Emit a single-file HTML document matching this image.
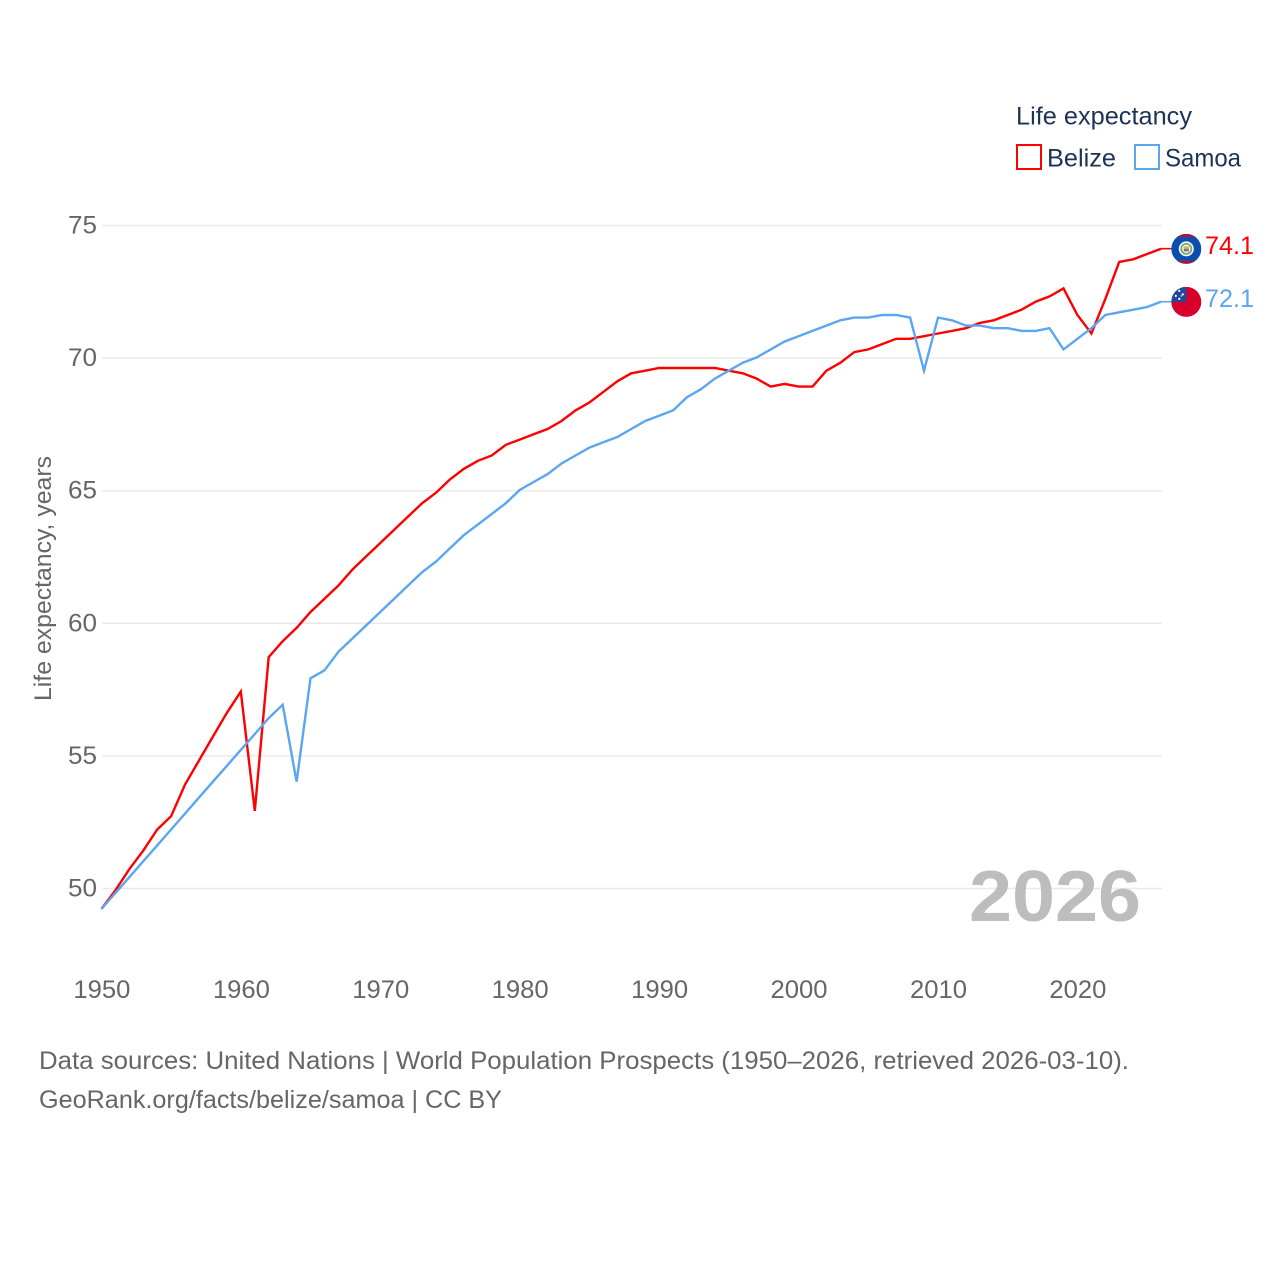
<!DOCTYPE html>
<html lang="en">
<head>
<meta charset="utf-8">
<title>Life expectancy: Belize and Samoa</title>
<style>
html,body{margin:0;padding:0;background:#fff;width:1280px;height:1280px;overflow:hidden}
svg{display:block}
text{font-family:"Liberation Sans",sans-serif}
</style>
</head>
<body>
<svg id="chart" width="1280" height="1280" viewBox="0 0 1280 1280" xmlns="http://www.w3.org/2000/svg">
  <rect width="1280" height="1280" fill="#fff"/>
  <g id="grid"></g>
  <g id="yticks"></g>
  <g id="xticks"></g>
  <text transform="translate(51,701) rotate(-90)" font-size="24" fill="#666" textLength="245" lengthAdjust="spacingAndGlyphs">Life expectancy, years</text>
  <text x="969" y="921" font-size="72" font-weight="bold" fill="#bdbdbd" textLength="172" lengthAdjust="spacingAndGlyphs">2026</text>
  <g id="series"></g>
  <g id="end-labels"></g>

  <g>
    <text x="1016" y="124.5" font-size="25" fill="#1b3354" textLength="176" lengthAdjust="spacingAndGlyphs">Life expectancy</text>
    <g>
      <rect x="1017" y="145" width="24" height="24" fill="#fff" stroke="#ff0000" stroke-width="2"/>
      <text x="1047" y="166.5" font-size="25" fill="#1b3354" textLength="69" lengthAdjust="spacingAndGlyphs">Belize</text>
    </g>
    <g>
      <rect x="1135" y="145" width="24" height="24" fill="#fff" stroke="#5ba6f0" stroke-width="2"/>
      <text x="1165" y="166.5" font-size="25" fill="#1b3354" textLength="76" lengthAdjust="spacingAndGlyphs">Samoa</text>
    </g>
  </g>

  <text x="39" y="1069" font-size="25" fill="#666" textLength="1090" lengthAdjust="spacingAndGlyphs">Data sources: United Nations | World Population Prospects (1950–2026, retrieved 2026-03-10).</text>
  <text x="39" y="1108" font-size="25" fill="#666" textLength="463" lengthAdjust="spacingAndGlyphs">GeoRank.org/facts/belize/samoa | CC BY</text>
</svg>
<script>
const years = [1950,1951,1952,1953,1954,1955,1956,1957,1958,1959,1960,1961,1962,1963,1964,1965,1966,1967,1968,1969,1970,1971,1972,1973,1974,1975,1976,1977,1978,1979,1980,1981,1982,1983,1984,1985,1986,1987,1988,1989,1990,1991,1992,1993,1994,1995,1996,1997,1998,1999,2000,2001,2002,2003,2004,2005,2006,2007,2008,2009,2010,2011,2012,2013,2014,2015,2016,2017,2018,2019,2020,2021,2022,2023,2024,2025,2026];
const belizeValues = [49.2,49.9,50.7,51.4,52.2,52.7,53.9,54.8,55.7,56.6,57.4,52.9,58.7,59.3,59.8,60.4,60.9,61.4,62.0,62.5,63.0,63.5,64.0,64.5,64.9,65.4,65.8,66.1,66.3,66.7,66.9,67.1,67.3,67.6,68.0,68.3,68.7,69.1,69.4,69.5,69.6,69.6,69.6,69.6,69.6,69.5,69.4,69.2,68.9,69.0,68.9,68.9,69.5,69.8,70.2,70.3,70.5,70.7,70.7,70.8,70.9,71.0,71.1,71.3,71.4,71.6,71.8,72.1,72.3,72.6,71.6,70.9,72.2,73.6,73.7,73.9,74.1];
const samoaValues = [49.2,49.8,50.4,51.0,51.6,52.2,52.8,53.4,54.0,54.6,55.2,55.8,56.4,56.9,54.0,57.9,58.2,58.9,59.4,59.9,60.4,60.9,61.4,61.9,62.3,62.8,63.3,63.7,64.1,64.5,65.0,65.3,65.6,66.0,66.3,66.6,66.8,67.0,67.3,67.6,67.8,68.0,68.5,68.8,69.2,69.5,69.8,70.0,70.3,70.6,70.8,71.0,71.2,71.4,71.5,71.5,71.6,71.6,71.5,69.5,71.5,71.4,71.2,71.2,71.1,71.1,71.0,71.0,71.1,70.3,70.7,71.1,71.6,71.7,71.8,71.9,72.1];
const yTickLabels = [50,55,60,65,70,75];
const xTickLabels = [1950,1960,1970,1980,1990,2000,2010,2020];

const NS = 'http://www.w3.org/2000/svg';
const xScale = function (year) { return 101.4 + (year - 1950) * 13.943; };
const yScale = function (value) { return 887.8 - (value - 50) * 26.52; };

function make(tag, parent, attrs) {
  const el = document.createElementNS(NS, tag);
  Object.keys(attrs).forEach(function (k) { el.setAttribute(k, attrs[k]); });
  parent.appendChild(el);
  return el;
}

const grid = document.getElementById('grid');
const yticks = document.getElementById('yticks');
yTickLabels.forEach(function (v) {
  const line = make('line', grid, {x1: 102, x2: 1162, y1: yScale(v) + 0.7, y2: yScale(v) + 0.7, stroke: '#eaeaea', 'stroke-width': 1.5});
  
  
  const t = make('text', yticks, {x: 97, y: yScale(v) + 8.7, 'text-anchor': 'end', 'font-size': 25, fill: '#666', textLength: 29, lengthAdjust: 'spacingAndGlyphs'});
  
  
  t.textContent = v;
});

const xticks = document.getElementById('xticks');
xTickLabels.forEach(function (y) {
  const t = make('text', xticks, {x: xScale(y) - 28, y: 998, 'font-size': 25, fill: '#666', textLength: 57, lengthAdjust: 'spacingAndGlyphs'});
  
  
  t.textContent = y;
});

const seriesGroup = document.getElementById('series');
const endGroup = document.getElementById('end-labels');

function drawSeries(values, color) {
  const pts = values.map(function (v, i) { return xScale(years[i]).toFixed(1) + ',' + yScale(v).toFixed(1); });
  const p = make('polyline', seriesGroup, {points: pts.join(' '), fill: 'none', stroke: color, 'stroke-width': 2.4, 'stroke-linejoin': 'miter', 'stroke-miterlimit': 6});
  const last = values[values.length - 1];
  const xEnd = xScale(years[years.length - 1]);
  const yEnd = yScale(last);
  const c = make('line', seriesGroup, {x1: xEnd, x2: xEnd + 11, y1: yEnd, y2: yEnd, stroke: color, 'stroke-width': 1.6});
  const flag = make('g', endGroup, {transform: 'translate(1186.3,' + (yEnd + 0.2) + ')'});
  const label = make('text', endGroup, {x: 1205, y: yEnd + 5.3, 'font-size': 25, fill: color, textLength: 49, lengthAdjust: 'spacingAndGlyphs'});
  label.textContent = last.toFixed(1);
  return {line: p, connector: c, flag: flag, label: label};
}

const belize = drawSeries(belizeValues, '#ff0000');








belize.flag.innerHTML =
  '<clipPath id="belize-clip"><circle r="15"/></clipPath>' +
  '<g clip-path="url(#belize-clip)"><rect x="-15" y="-15" width="30" height="30" fill="#0a4fb0"/>' +
  '<rect x="-15" y="-15" width="30" height="3" fill="#b3123a"/><rect x="-15" y="12" width="30" height="3" fill="#b3123a"/>' +
  '<circle r="7.5" fill="#fff"/><circle r="6" fill="#7fa85a"/><circle r="4.2" fill="#f2f2f2"/><rect x="-2.5" y="-2.5" width="5" height="5" fill="#e0b040"/><rect x="-2.5" y="0" width="5" height="2.5" fill="#5a7fb0"/></g>';

const samoa = drawSeries(samoaValues, '#5ba6f0');








samoa.flag.innerHTML =
  '<clipPath id="samoa-clip"><circle r="15"/></clipPath>' +
  '<g clip-path="url(#samoa-clip)"><rect x="-15" y="-15" width="30" height="30" fill="#d8002a"/>' +
  '<rect x="-15" y="-15" width="15" height="15" fill="#1e4a9c"/>' +
  '<circle cx="-7" cy="-11" r="1.1" fill="#fff"/><circle cx="-3.5" cy="-7.5" r="1.1" fill="#fff"/><circle cx="-10.5" cy="-6" r="1.1" fill="#fff"/><circle cx="-7" cy="-3" r="1.1" fill="#fff"/><circle cx="-5" cy="-6" r="0.7" fill="#fff"/></g>';
</script>
</body>
</html>
